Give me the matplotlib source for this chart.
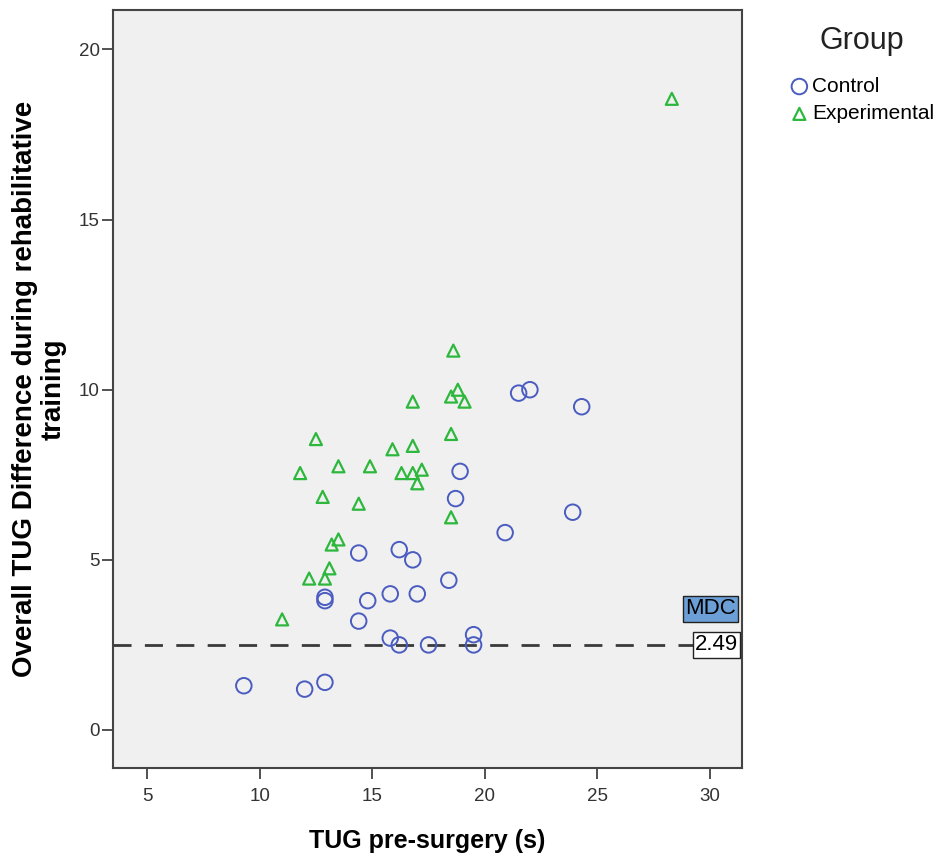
import matplotlib.pyplot as plt

plt.rcParams['font.family'] = ['Liberation Sans', 'DejaVu Sans']

# Control group
ctrl_x = [9.3, 12.0, 12.9, 12.9, 12.9, 14.4, 14.8, 14.4, 15.8, 15.8, 16.2, 16.2, 16.8,
          17.0, 17.5, 18.4, 18.7, 18.9, 19.5, 19.5, 20.9, 21.5, 22.0, 23.9, 24.3]
ctrl_y = [1.3, 1.2, 1.4, 3.9, 3.8, 3.2, 3.8, 5.2, 4.0, 2.7, 2.5, 5.3, 5.0,
          4.0, 2.5, 4.4, 6.8, 7.6, 2.8, 2.5, 5.8, 9.9, 10.0, 6.4, 9.5]

# Experimental group
exp_x = [18.6, 18.8, 18.5, 19.1, 16.8, 18.5, 12.5, 15.9, 16.8, 11.8, 13.5, 14.9, 16.3,
         16.8, 17.2, 17.0, 12.8, 14.4, 18.5, 13.5, 13.2, 13.1, 12.2, 12.9, 11.0, 28.3]
exp_y = [11.15, 10.0, 9.8, 9.65, 9.65, 8.7, 8.55, 8.25, 8.35, 7.55, 7.75, 7.75, 7.55,
         7.55, 7.65, 7.25, 6.85, 6.65, 6.25, 5.6, 5.45, 4.75, 4.45, 4.45, 3.25, 18.55]

mdc = 2.49

fig = plt.figure(figsize=(9.39, 8.63), dpi=100)
ax = fig.add_axes([0.1203, 0.110, 0.670, 0.878])
ax.set_facecolor('#f0f0f0')

ax.scatter(ctrl_x, ctrl_y, s=125, facecolors='none', edgecolors='#4a5cc0',
           linewidths=1.4, label='Control', zorder=3)
ax.scatter(exp_x, exp_y, s=75, marker='^', facecolors='none', edgecolors='#2db83d',
           linewidths=1.6, label='Experimental', zorder=3)

ax.axhline(mdc, color='#3a3a3a', linestyle=(0, (6.5, 4.8)), linewidth=2, zorder=2)

ax.text(31.15, 3.56, 'MDC', ha='right', va='center', fontsize=16,
        bbox=dict(boxstyle='square,pad=0.1', facecolor='#6c9fd6', edgecolor='#222222', linewidth=1))
ax.text(31.25, 2.5, '2.49', ha='right', va='center', fontsize=16,
        bbox=dict(boxstyle='square,pad=0.1', facecolor='white', edgecolor='#222222', linewidth=1))

ax.set_xlim(3.49, 31.42)
ax.set_ylim(-1.12, 21.15)
ax.set_xticks([5, 10, 15, 20, 25, 30])
ax.set_yticks([0, 5, 10, 15, 20])
ax.tick_params(axis='both', direction='out', length=8, width=1.2, color='#333333',
               labelsize=13.5, labelcolor='#333333')
ax.tick_params(axis='y', pad=1.5)
ax.tick_params(axis='x', pad=6.5)
for sp in ax.spines.values():
    sp.set_color('#444444')
    sp.set_linewidth(1.5)

ax.set_xlabel('TUG pre-surgery (s)', fontsize=18, fontweight='bold', labelpad=17)
ax.set_ylabel('Overall TUG Difference during rehabilitative\ntraining', fontsize=20,
              fontweight='bold', labelpad=9, linespacing=1.12)

fig.text(862 / 939, 1 - 41 / 863, 'Group', ha='center', va='center', fontsize=22, color='#222222')
leg = fig.legend(loc='upper left', bbox_to_anchor=(0.838, 1 - 77 / 863), frameon=False,
                 fontsize=15, handletextpad=0.0, handlelength=1.2,
                 labelspacing=0.4, borderpad=0, borderaxespad=0)

fig.savefig('out.png', dpi=100)
